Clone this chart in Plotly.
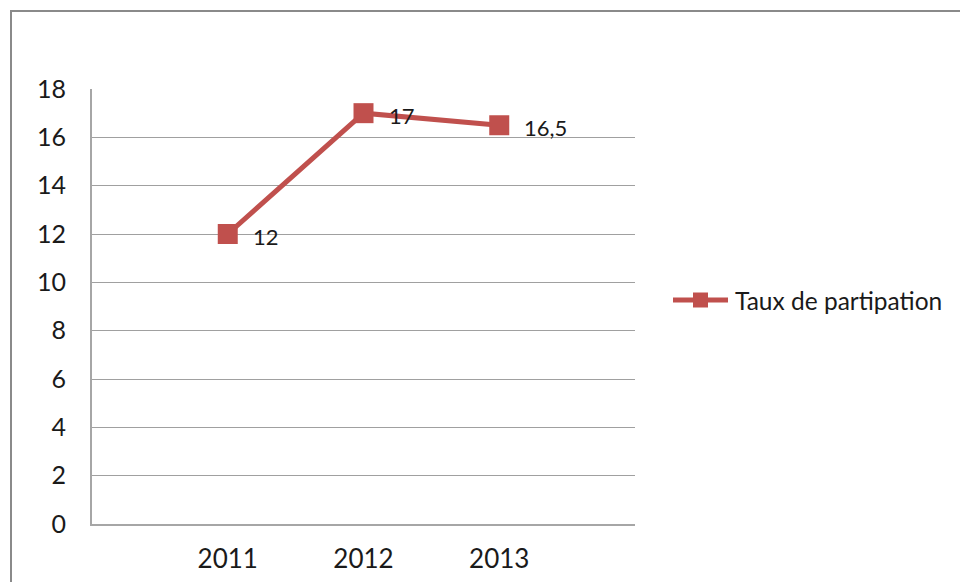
import plotly.graph_objects as go

# Participation rate by year
years = ["2011", "2012", "2013"]
taux = [12, 17, 16.5]
labels = ["12", "17", "16,5"]
series_name = "Taux de partipation"
y_ticks = [0, 2, 4, 6, 8, 10, 12, 14, 16, 18]

RED = "#c0504d"
FONT = "Lato, Calibri, Arial, sans-serif"
TEXT = "#1a1a1a"

W, H = 960, 582
L, R, T, B = 92, 325, 89, 58
pw, ph = W - L - R, H - T - B

def px_x(p):
    return (p - L) / pw

def px_y(p):
    return 1 - (p - T) / ph

xs = list(range(len(years)))

fig = go.Figure()
fig.add_trace(go.Scatter(
    x=xs,
    y=taux,
    name=series_name,
    mode="lines+markers",
    line=dict(color=RED, width=5),
    marker=dict(symbol="square", size=20, color=RED),
    showlegend=False,
    cliponaxis=False,
))

# value labels to the right of each point
annotations = [
    dict(x=x, y=v, text=t, xref="x", yref="y",
         xanchor="left", yanchor="middle", xshift=23, yshift=-2,
         showarrow=False, font=dict(family=FONT, size=22, color=TEXT))
    for x, v, t in zip(xs, taux, labels)
]

# legend entry: line with square marker, then the series name
leg_y = px_y(300)
annotations.append(dict(
    x=px_x(733), y=leg_y, xref="paper", yref="paper",
    xanchor="left", yanchor="middle", showarrow=False,
    text=series_name, font=dict(family=FONT, size=24.5, color=TEXT),
))

shapes = [
    dict(type="rect", xref="paper", yref="paper",
         x0=px_x(11), x1=px_x(975), y0=px_y(11), y1=px_y(600),
         line=dict(color="#8a8a8a", width=2),
         fillcolor="rgba(0,0,0,0)", layer="below"),
    dict(type="line", xref="paper", yref="paper",
         x0=px_x(673), x1=px_x(728), y0=leg_y, y1=leg_y,
         line=dict(color=RED, width=5)),
    dict(type="rect", xref="paper", yref="paper",
         x0=px_x(693), x1=px_x(708), y0=px_y(292.5), y1=px_y(307.5),
         line=dict(color=RED, width=0), fillcolor=RED),
]

fig.update_layout(
    width=W, height=H,
    margin=dict(l=L, r=R, t=T, b=B),
    paper_bgcolor="white",
    plot_bgcolor="white",
    font=dict(family=FONT, color=TEXT),
    showlegend=False,
    xaxis=dict(
        range=[-1, 3],
        tickmode="array",
        tickvals=xs,
        ticktext=years,
        showgrid=False,
        zeroline=False,
        showline=True,
        linecolor="#a6a6a6",
        linewidth=2,
        ticks="",
        tickfont=dict(size=26),
        ticklabelstandoff=11,
        automargin=False,
    ),
    yaxis=dict(
        range=[0, 18],
        tickvals=y_ticks,
        showgrid=True,
        gridcolor="#a0a0a0",
        gridwidth=1,
        zeroline=False,
        showline=True,
        linecolor="#a6a6a6",
        linewidth=2,
        ticks="",
        tickfont=dict(size=25),
        ticklabelstandoff=19,
        automargin=False,
    ),
    annotations=annotations,
    shapes=shapes,
)

fig.write_html("out.html")
